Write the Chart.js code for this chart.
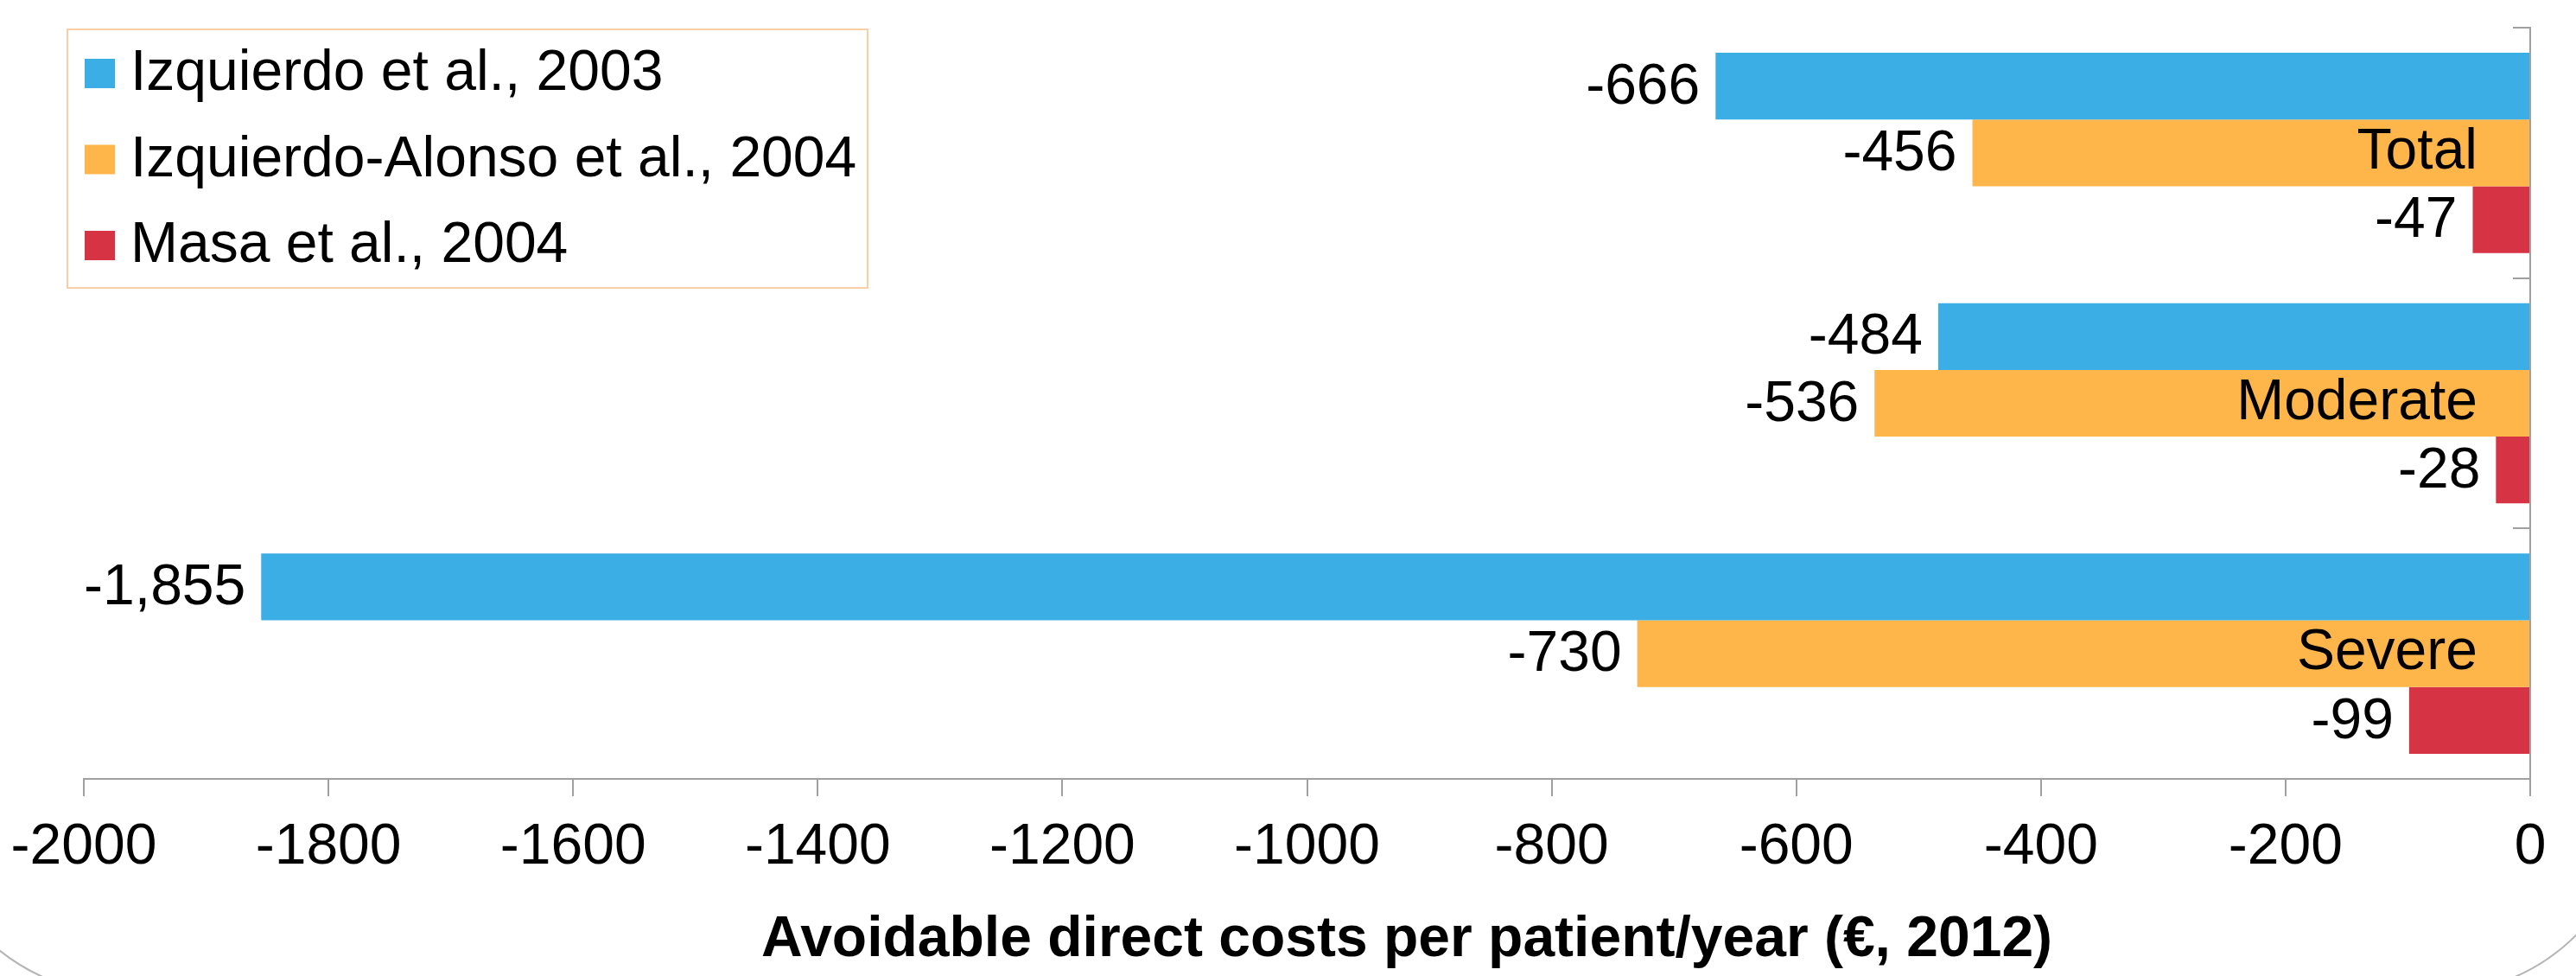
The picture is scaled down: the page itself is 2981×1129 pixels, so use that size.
<!DOCTYPE html>
<html>
<head>
<meta charset="utf-8">
<script src="https://cdn.jsdelivr.net/npm/chart.js@4.4.0/dist/chart.umd.min.js"></script>
<style>
  html, body { margin: 0; padding: 0; background: #fff; }
  #wrap { width: 2981px; height: 1129px; position: relative; }
</style>
</head>
<body>
<div id="wrap"><canvas id="barchart"></canvas></div>
<script>
// categories, top to bottom
var categories = ["Total", "Moderate", "Severe"];

// one array per study
var seriesNames = ["Izquierdo et al., 2003", "Izquierdo-Alonso et al., 2004", "Masa et al., 2004"];
var izquierdo2003 = [-666, -484, -1855];
var izquierdoAlonso2004 = [-456, -536, -730];
var masa2004 = [-47, -28, -99];
var seriesColors = ["#3caee6", "#feb54a", "#d63444"];

// x axis ticks
var xTickValues = [-2000, -1800, -1600, -1400, -1200, -1000, -800, -600, -400, -200, 0];
var xTitle = "Avoidable direct costs per patient/year (\u20ac, 2012)";

var fontFamily = "'Liberation Sans', Arial, sans-serif";
var axisGrey = "#a0a0a0";

Chart.defaults.font.family = fontFamily;
Chart.defaults.font.size = 66;
Chart.defaults.color = "#000";

// value labels at the outer end of each bar
var valueLabels = {
  id: "valueLabels",
  afterDatasetsDraw: function(chart) {
    var ctx = chart.ctx;
    ctx.save();
    ctx.font = "66px " + fontFamily;
    ctx.fillStyle = "#000";
    ctx.textAlign = "right";
    ctx.textBaseline = "middle";
    chart.data.datasets.forEach(function(ds, i) {
      chart.getDatasetMeta(i).data.forEach(function(bar, j) {
        ctx.fillText(ds.data[j].toLocaleString("en-US"), bar.x - 18, bar.y + 2);
      });
    });
    ctx.restore();
  }
};

// boxed legend in the top left corner of the plot
var legendBox = {
  id: "legendBox",
  afterDraw: function(chart) {
    var ctx = chart.ctx, area = chart.chartArea;
    var left = area.left - 19, top = area.top + 2;
    ctx.save();
    ctx.strokeStyle = "#f9cfa6";
    ctx.lineWidth = 2;
    ctx.strokeRect(left, top, 926, 299);
    ctx.font = "66px " + fontFamily;
    ctx.textAlign = "left";
    ctx.textBaseline = "middle";
    chart.data.datasets.forEach(function(ds, i) {
      var cy = top + 51 + i * 99.5;
      ctx.fillStyle = ds.backgroundColor;
      ctx.fillRect(left + 20, cy - 17, 35, 34);
      ctx.fillStyle = "#000";
      ctx.fillText(ds.label, left + 73, cy + 1);
    });
    ctx.restore();
  }
};

// axis title (centred on the slide, not on the plot) and the slide's rounded corners
var decorations = {
  id: "decorations",
  afterDraw: function(chart) {
    var ctx = chart.ctx, w = chart.width, h = chart.height;
    ctx.save();
    ctx.font = "bold 66px " + fontFamily;
    ctx.fillStyle = "#000";
    ctx.textAlign = "center";
    ctx.textBaseline = "middle";
    ctx.fillText(xTitle, 1628, h - 41);

    ctx.strokeStyle = "#b5b5b5";
    ctx.lineWidth = 2;
    ctx.beginPath();
    ctx.arc(w - 162, h - 209, 229, 0, Math.PI / 2);
    ctx.stroke();
    ctx.beginPath();
    ctx.arc(143, h - 208, 229, Math.PI / 2, Math.PI);
    ctx.stroke();
    ctx.restore();
  }
};

var datasets = [izquierdo2003, izquierdoAlonso2004, masa2004].map(function(values, i) {
  return {
    label: seriesNames[i],
    data: values,
    backgroundColor: seriesColors[i],
    borderWidth: 0,
    barPercentage: 1.0,
    categoryPercentage: 0.8
  };
});

var ctx = document.getElementById("barchart").getContext("2d");
var myBarChart = new Chart(ctx, {
  type: "bar",
  data: { labels: categories, datasets: datasets },
  options: {
    indexAxis: "y",
    responsive: true,
    maintainAspectRatio: false,
    animation: false,
    devicePixelRatio: 1,
    layout: { padding: { left: 97, right: 0, top: 32, bottom: 0 } },
    plugins: {
      legend: { display: false },
      tooltip: { enabled: false }
    },
    scales: {
      x: {
        position: "bottom",
        min: -2000,
        max: 0,
        afterBuildTicks: function(axis) {
          axis.ticks = xTickValues.map(function(v) { return { value: v }; });
        },
        afterFit: function(scale) {
          scale.height = 228;
          scale.paddingLeft = 0;
          scale.paddingRight = 0;
        },
        ticks: {
          padding: 20,
          maxRotation: 0,
          autoSkip: false,
          callback: function(value) { return String(value); }
        },
        grid: {
          drawOnChartArea: false,
          drawTicks: true,
          tickLength: 20,
          color: axisGrey,
          lineWidth: 2
        },
        border: { display: true, color: axisGrey, width: 2, z: 1 }
      },
      y: {
        position: "right",
        afterFit: function(scale) {
          scale.width = 53;
          scale.paddingTop = 0;
          scale.paddingBottom = 0;
        },
        ticks: { mirror: true, padding: -61, z: 1 },
        grid: {
          drawOnChartArea: false,
          drawTicks: true,
          tickLength: -20,
          color: axisGrey,
          lineWidth: 2
        },
        border: { display: true, color: axisGrey, width: 2, z: 1 }
      }
    }
  },
  plugins: [valueLabels, legendBox, decorations]
});
</script>
</body>
</html>
